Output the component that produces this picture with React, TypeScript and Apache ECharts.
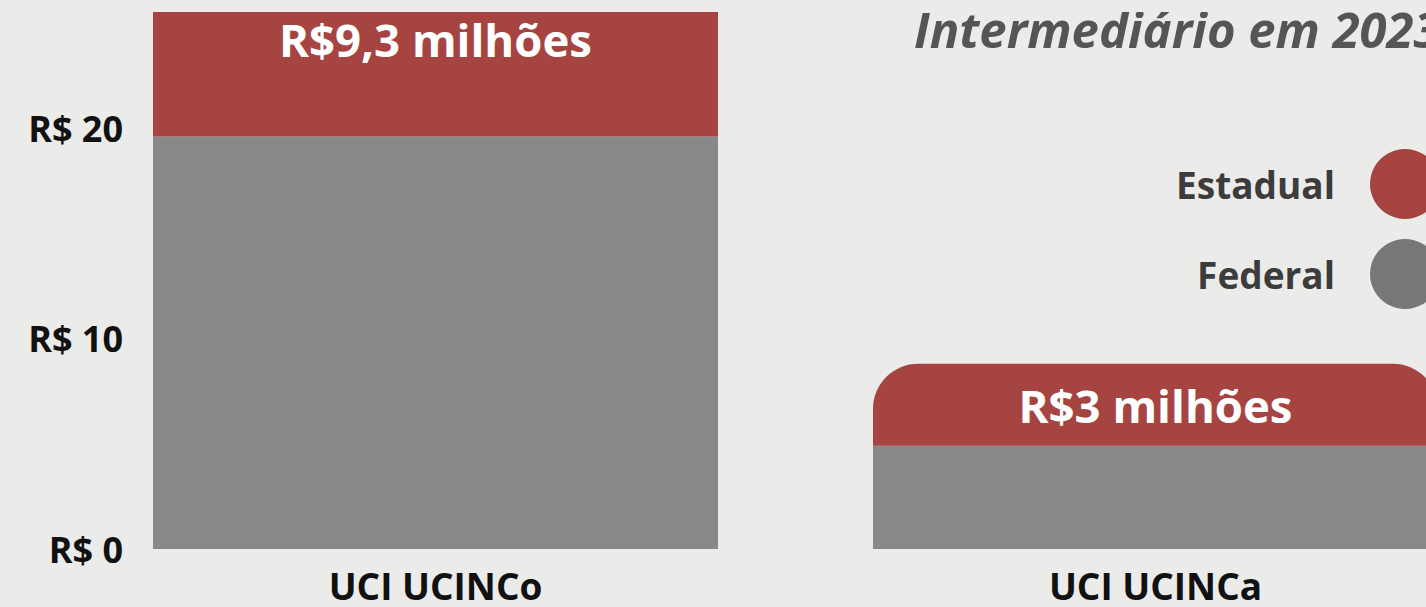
import React, { useEffect, useRef } from "react";
import * as echarts from "echarts";

const categories = ["UCI UCINCo", "UCI UCINCa"];
const federalValues = [19.6, 4.9];
const estadualValues = [9.3, 3.9];
const estadualLabels = ["R$9,3 milhões", "R$3 milhões"];
const titleText = "Intermediário em 2023";
const seriesNames = ["Estadual", "Federal"];

export default function App() {
  const ref = useRef<HTMLDivElement>(null);
  useEffect(() => {
    if (!ref.current) return;
    const chart = echarts.init(ref.current, null, { renderer: "svg" });
    const font = "'Open Sans', 'Noto Sans', sans-serif";
    chart.setOption({
      animation: false,
      backgroundColor: "#ebebe9",
      textStyle: { fontFamily: font },
      title: {
        text: titleText,
        left: 914,
        top: 4,
        padding: 0,
        textStyle: {
          fontFamily: font,
          fontSize: 49,
          fontStyle: "italic",
          fontWeight: "bold",
          color: "#555555",
        },
      },
      legend: {
        orient: "vertical",
        right: -14,
        top: 149,
        padding: 0,
        align: "right",
        icon: "circle",
        itemWidth: 70,
        itemHeight: 70,
        itemGap: 20,
        data: [
          { name: seriesNames[0], itemStyle: { color: "#a64442" } },
          { name: seriesNames[1], itemStyle: { color: "#777777" } },
        ],
        textStyle: {
          fontFamily: font,
          fontSize: 37,
          fontWeight: "bold",
          color: "#3c3c3c",
          padding: [0, 30, 4, 0],
        },
      },
      grid: {
        left: 75.5,
        width: 1440,
        top: -82.5,
        bottom: 58,
        containLabel: false,
        outerBoundsMode: "none",
      },
      xAxis: {
        type: "category",
        data: categories,
        axisLine: { show: false },
        axisTick: { show: false },
        axisLabel: {
          margin: 18,
          fontFamily: font,
          fontSize: 37,
          fontWeight: "bold",
          color: "#111111",
        },
      },
      yAxis: {
        type: "value",
        min: 0,
        max: 30,
        interval: 10,
        offset: -57.5,
        splitLine: { show: false },
        axisLine: { show: false },
        axisTick: { show: false },
        axisLabel: {
          margin: 10,
          showMaxLabel: false,
          fontFamily: font,
          fontSize: 36,
          fontWeight: "bold",
          color: "#111111",
          formatter: (v: number) => "R$ " + v,
        },
      },
      series: [
        {
          name: "Federal",
          type: "bar",
          stack: "total",
          barWidth: 565,
          data: federalValues,
          itemStyle: { color: "#888888" },
        },
        {
          name: "Estadual",
          type: "bar",
          stack: "total",
          barWidth: 565,
          data: estadualValues,
          itemStyle: { color: "#a64442", borderRadius: [45, 45, 0, 0] },
          label: {
            show: true,
            position: "inside",
            fontFamily: font,
            fontSize: 45.5,
            fontWeight: "bold",
            color: "#ffffff",
            formatter: (p: any) => estadualLabels[p.dataIndex],
          },
        },
      ],
      color: ["#888888", "#a64442"],
      graphic: [
        {
          type: "rect",
          z: 100,
          shape: { x: 0, y: 0, width: 1426, height: 12 },
          style: { fill: "#ebebe9" },
        },
      ],
    });
    return () => chart.dispose();
  }, []);
  return (
    <div
      ref={ref}
      style={{ position: "fixed", left: 0, top: 0, width: 1426, height: 607 }}
    />
  );
}
